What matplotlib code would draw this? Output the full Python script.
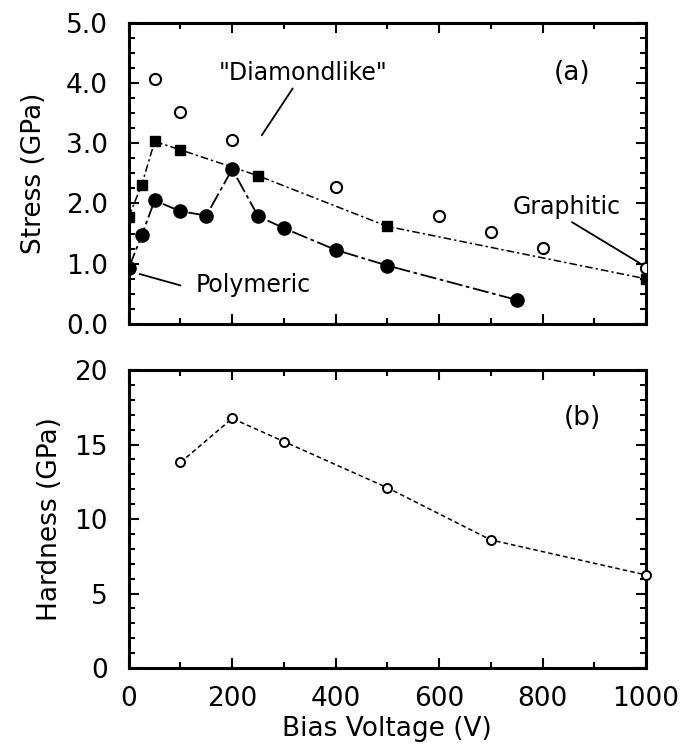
import matplotlib
matplotlib.use("Agg")
import matplotlib.pyplot as plt
from matplotlib.ticker import MultipleLocator, FormatStrFormatter

# ---- data ----
open_x = [50, 100, 200, 400, 600, 700, 800, 1000]
open_y = [4.07, 3.52, 3.06, 2.27, 1.79, 1.52, 1.26, 0.93]

sq_x = [0, 25, 50, 100, 250, 500, 1000]
sq_y = [1.78, 2.31, 3.03, 2.89, 2.46, 1.62, 0.75]

fc_x = [0, 25, 50, 100, 150, 200, 250, 300, 400, 500, 750]
fc_y = [0.93, 1.47, 2.05, 1.87, 1.80, 2.57, 1.79, 1.59, 1.23, 0.97, 0.40]

hard_x = [100, 200, 300, 500, 700, 1000]
hard_y = [13.8, 16.75, 15.2, 12.1, 8.6, 6.25]

xticks = [0, 200, 400, 600, 800, 1000]

plt.rcParams['font.family'] = ['DejaVu Sans']
FS = 19
AFS = 17

fig = plt.figure(figsize=(6.85, 7.44), dpi=100)
ax1 = fig.add_axes([0.188, 0.5645, 0.755, 0.405])
ax2 = fig.add_axes([0.188, 0.102, 0.755, 0.4007])

for ax in (ax1, ax2):
    for s in ax.spines.values():
        s.set_linewidth(2.2)
    ax.tick_params(which='both', direction='in', top=True, right=True, width=1.5)
    ax.tick_params(which='major', length=7, labelsize=FS)
    ax.tick_params(which='minor', length=4)
    ax.tick_params(axis='y', which='major', pad=15)
    ax.tick_params(axis='x', which='major', pad=13)
    ax.set_xlim(0, 1000)
    ax.set_xticks(xticks)
    ax.xaxis.set_minor_locator(MultipleLocator(100))

# top panel
ax1.plot(sq_x, sq_y, color='black', lw=1.1, ls=(0, (5, 2, 1.5, 2)), marker='s',
         ms=7, mfc='black', mec='black', zorder=3)
ax1.plot(fc_x, fc_y, color='black', lw=1.3, ls=(0, (9, 2, 2, 2)), marker='o',
         ms=9.5, mfc='black', mec='black', zorder=3)
ax1.plot(open_x, open_y, ls='none', marker='o', ms=8, mfc='white', mec='black',
         mew=1.5, zorder=4)
ax1.set_ylim(0, 5)
ax1.yaxis.set_major_locator(MultipleLocator(1))
ax1.yaxis.set_minor_locator(MultipleLocator(0.25))
ax1.yaxis.set_major_formatter(FormatStrFormatter('%.1f'))
ax1.tick_params(axis='x', labelbottom=False)
ax1.set_ylabel('Stress (GPa)', fontsize=FS)
ax1.yaxis.set_label_coords(-0.158, 0.5)

line = dict(arrowstyle='-', color='black', lw=1.3, shrinkA=0, shrinkB=0)
ax1.text(337, 4.16, '"Diamondlike"', ha='center', va='center', fontsize=AFS)
ax1.annotate('', xy=(257, 3.13), xytext=(317, 3.91), arrowprops=line)
ax1.text(847, 1.94, 'Graphitic', ha='center', va='center', fontsize=AFS)
ax1.annotate('', xy=(988, 1.01), xytext=(857, 1.69), arrowprops=line)
ax1.text(241, 0.64, 'Polymeric', ha='center', va='center', fontsize=AFS)
ax1.annotate('', xy=(21, 0.83), xytext=(100, 0.64), arrowprops=line)
ax1.text(857, 4.17, '(a)', ha='center', va='center', fontsize=FS)

# bottom panel
ax2.plot(hard_x, hard_y, color='black', lw=1.1, ls=(0, (3, 2)), marker='o',
         ms=6.5, mfc='white', mec='black', mew=1.4, clip_on=False, zorder=3)
ax2.set_ylim(0, 20)
ax2.yaxis.set_major_locator(MultipleLocator(5))
ax2.yaxis.set_minor_locator(MultipleLocator(1))
ax2.set_ylabel('Hardness (GPa)', fontsize=FS)
ax2.yaxis.set_label_coords(-0.128, 0.5)
ax2.set_xlabel('Bias Voltage (V)', fontsize=FS, labelpad=3)
ax2.text(878, 16.8, '(b)', ha='center', va='center', fontsize=FS)

fig.savefig('out.png', dpi=100)
